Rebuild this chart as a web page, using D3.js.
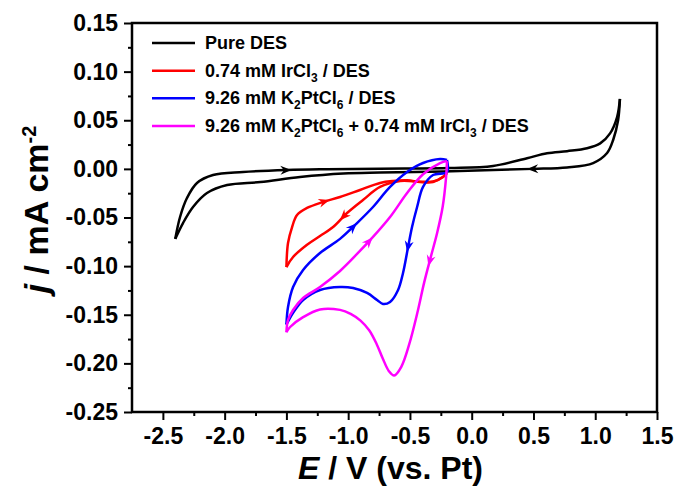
<!DOCTYPE html>
<html lang="en">
<meta charset="utf-8">
<title>CV curves</title>
<script src="https://d3js.org/d3.v7.min.js"></script>
<body>
<div id="chart"></div>
</body>

<style>
body {
  margin: 0;
  background-color: white;
}
.chartText {
  font-family: "Liberation Sans", Arial, Helvetica, sans-serif;
  font-weight: bold;
  fill: black;
}
</style>

<script>
    // ---------------------------//
    //       DATA                 //
    // ---------------------------//

    // axis ranges and ticks
    const eRange = [-2.75, 1.5];
    const jRange = [-0.25, 0.15];
    const xTicks = [-2.5, -2.0, -1.5, -1.0, -0.5, 0.0, 0.5, 1.0, 1.5];
    const xMinorTicks = [-2.25, -1.75, -1.25, -0.75, -0.25, 0.25, 0.75, 1.25];
    const yTicks = [0.15, 0.10, 0.05, 0.00, -0.05, -0.10, -0.15, -0.20, -0.25];
    const yMinorTicks = [0.125, 0.075, 0.025, -0.025, -0.075, -0.125, -0.175, -0.225];

    // Pure DES, [E (V), j (mA cm-2)]
    const pureAnodic = [[-2.40,-0.072],[-2.361,-0.0495],[-2.305,-0.030],[-2.224,-0.0145],[-2.094,-0.0063],
      [-1.851,-0.0032],[-1.495,-0.0012],[-1.171,-0.0004],[-0.742,0.0002],[-0.175,0.0008],[0.173,0.003],
      [0.448,0.011],[0.610,0.0160],[0.772,0.0182],[0.934,0.0212],[1.04,0.0262],[1.12,0.0365],
      [1.177,0.0533],[1.20,0.0719]];
    const pureCathodic = [[1.20,0.0719],[1.185,0.050],[1.145,0.0297],[1.096,0.0163],[0.983,0.006],
      [0.772,0.0015],[0.497,0.0],[0.173,-0.0012],[-0.232,-0.0028],[-0.742,-0.0038],[-1.04,-0.0048],
      [-1.39,-0.0084],[-1.71,-0.0135],[-1.98,-0.0166],[-2.143,-0.0248],[-2.256,-0.0392],
      [-2.337,-0.0557],[-2.40,-0.072]];

    // 0.74 mM IrCl3 / DES
    const irCathodic = [[-0.2,-0.0042],[-0.233,-0.0084],[-0.313,-0.0130],[-0.418,-0.0132],[-0.58,-0.0125],
      [-0.742,-0.0186],[-0.88,-0.032],[-1.009,-0.0454],[-1.122,-0.0598],[-1.228,-0.069],
      [-1.333,-0.078],[-1.446,-0.0906],[-1.5,-0.101]];
    const irAnodic = [[-1.5,-0.101],[-1.487,-0.0762],[-1.454,-0.0598],[-1.414,-0.0474],[-1.333,-0.0402],
      [-1.203,-0.034],[-1.066,-0.0289],[-0.904,-0.0217],[-0.742,-0.0145],[-0.637,-0.0125],
      [-0.523,-0.0118],[-0.418,-0.0135],[-0.313,-0.0135],[-0.233,-0.0084],[-0.2,-0.0042]];

    // 9.26 mM K2PtCl6 / DES
    const ptCathodic = [[-0.2,0.0091],[-0.2,-0.0032],[-0.313,-0.0063],[-0.394,-0.0186],[-0.442,-0.0392],
      [-0.483,-0.0598],[-0.515,-0.0803],[-0.556,-0.107],[-0.596,-0.1245],[-0.661,-0.1368],
      [-0.718,-0.1389],[-0.766,-0.1348],[-0.847,-0.1276],[-0.96,-0.1225],[-1.066,-0.1214],
      [-1.228,-0.1245],[-1.365,-0.1348],[-1.446,-0.1481],[-1.487,-0.1570],[-1.5,-0.160]];
    const ptAnodic = [[-1.5,-0.160],[-1.487,-0.142],[-1.446,-0.1215],[-1.365,-0.104],[-1.228,-0.0865],
      [-1.066,-0.072],[-0.928,-0.0557],[-0.799,-0.0392],[-0.661,-0.0186],[-0.523,-0.0032],
      [-0.394,0.006],[-0.256,0.0101],[-0.2,0.0091]];

    // 9.26 mM K2PtCl6 + 0.74 mM IrCl3 / DES
    const mixCathodic = [[-0.2,0.008],[-0.207,-0.008],[-0.235,-0.039],[-0.28,-0.066],[-0.33,-0.090],
      [-0.385,-0.117],[-0.44,-0.148],[-0.505,-0.180],[-0.57,-0.2035],[-0.628,-0.2125],
      [-0.67,-0.208],[-0.72,-0.195],[-0.77,-0.180],[-0.83,-0.166],[-0.90,-0.156],
      [-0.98,-0.149],[-1.066,-0.145],[-1.228,-0.1445],[-1.365,-0.1525],[-1.47,-0.1626],[-1.5,-0.168]];
    const mixAnodic = [[-1.5,-0.168],[-1.487,-0.1554],[-1.446,-0.1451],[-1.365,-0.1328],[-1.228,-0.1215],
      [-1.066,-0.105],[-0.928,-0.0875],[-0.799,-0.070],[-0.661,-0.0495],[-0.523,-0.0248],
      [-0.394,-0.0055],[-0.256,0.006],[-0.2,0.008]];

    const seriesColors = ["#000000", "#ff0000", "#0000ff", "#ff00ff"];
    const legendLabels = [
      [{t: "Pure DES"}],
      [{t: "0.74 mM IrCl"}, {t: "3", sub: true}, {t: " / DES"}],
      [{t: "9.26 mM K"}, {t: "2", sub: true}, {t: "PtCl"}, {t: "6", sub: true}, {t: " / DES"}],
      [{t: "9.26 mM K"}, {t: "2", sub: true}, {t: "PtCl"}, {t: "6", sub: true},
       {t: " + 0.74 mM IrCl"}, {t: "3", sub: true}, {t: " / DES"}]
    ];

    // each branch drawn separately so the turning points stay sharp
    const branches = [
      {series: 0, pts: pureAnodic}, {series: 0, pts: pureCathodic},
      {series: 1, pts: irCathodic}, {series: 1, pts: irAnodic},
      {series: 2, pts: ptCathodic}, {series: 2, pts: ptAnodic},
      {series: 3, pts: mixCathodic}, {series: 3, pts: mixAnodic}
    ];

    // scan direction arrows: branch index and potential where they sit
    const arrowMarks = [
      {branch: 0, e: -1.5}, {branch: 1, e: 0.49},
      {branch: 2, e: -1.04}, {branch: 3, e: -1.19},
      {branch: 4, e: -0.515}, {branch: 5, e: -0.96},
      {branch: 6, e: -0.34}, {branch: 7, e: -0.83}
    ];

    // ---------------------------//
    //       SVG AND SCALES       //
    // ---------------------------//

    let margin = {top: 23, right: 21, bottom: 76, left: 132},
        width = 678 - margin.left - margin.right,
        height = 488 - margin.top - margin.bottom;

    let svg = d3.select("#chart")
      .append("svg")
        .attr("width", 678)
        .attr("height", 488)
      .append("g")
        .attr("transform", "translate(" + margin.left + "," + margin.top + ")");

    let x = d3.scaleLinear().domain(eRange).range([0, width]);
    let y = d3.scaleLinear().domain(jRange).range([height, 0]);

    // minor ticks
    svg.append("g")
      .attr("transform", "translate(0," + height + ")")
      .call(d3.axisBottom(x).tickValues(xMinorTicks).tickSize(4).tickFormat(""))
      .call(g => g.select(".domain").remove())
      .call(g => g.selectAll("line").attr("stroke-width", 2));
    svg.append("g")
      .call(d3.axisLeft(y).tickValues(yMinorTicks).tickSize(4).tickFormat(""))
      .call(g => g.select(".domain").remove())
      .call(g => g.selectAll("line").attr("stroke-width", 2));

    // major ticks with labels
    svg.append("g")
      .attr("transform", "translate(0," + height + ")")
      .call(d3.axisBottom(x).tickValues(xTicks).tickSize(8).tickPadding(8)
        .tickFormat(d => d.toFixed(1)))
      .call(g => g.select(".domain").remove())
      .call(g => g.selectAll("line").attr("stroke-width", 2))
      .call(g => g.selectAll("text").attr("class", "chartText").style("font-size", "23px"));
    svg.append("g")
      .call(d3.axisLeft(y).tickValues(yTicks).tickSize(8).tickPadding(6)
        .tickFormat(d => d.toFixed(2)))
      .call(g => g.select(".domain").remove())
      .call(g => g.selectAll("line").attr("stroke-width", 2))
      .call(g => g.selectAll("text").attr("class", "chartText").style("font-size", "23px"));

    // frame
    svg.append("rect")
      .attr("width", width)
      .attr("height", height)
      .attr("fill", "none")
      .attr("stroke", "black")
      .attr("stroke-width", 2.5);

    // axis titles
    let xTitle = svg.append("text")
      .attr("class", "chartText")
      .attr("text-anchor", "middle")
      .attr("x", width / 2 - 4)
      .attr("y", height + 67)
      .style("font-size", "32px");
    xTitle.append("tspan").style("font-style", "italic").text("E");
    xTitle.append("tspan").text(" / V (vs. Pt)");

    let yTitle = svg.append("text")
      .attr("class", "chartText")
      .attr("text-anchor", "middle")
      .attr("transform", "rotate(-90)")
      .attr("x", -(height / 2 - 8))
      .attr("y", -84)
      .style("font-size", "34px");
    yTitle.append("tspan").style("font-style", "italic").text("j");
    yTitle.append("tspan").text(" / mA cm");
    yTitle.append("tspan").attr("dy", "-0.6em").style("font-size", "20px").text("-2");

    // ---------------------------//
    //       CURVES               //
    // ---------------------------//

    let line = d3.line()
      .x(d => x(d[0]))
      .y(d => y(d[1]))
      .curve(d3.curveCatmullRom.alpha(0.5));

    let paths = svg.append("g")
      .selectAll("path")
      .data(branches)
      .enter()
      .append("path")
        .attr("d", d => line(d.pts))
        .attr("fill", "none")
        .attr("stroke", d => seriesColors[d.series])
        .attr("stroke-width", 2.5)
        .attr("stroke-linejoin", "round");

    // arrow heads sitting on the drawn curves, pointing along the scan
    let pathNodes = paths.nodes();
    arrowMarks.forEach(function(a) {
      let node = pathNodes[a.branch];
      let total = node.getTotalLength();
      let target = x(a.e), best = 0, bestDist = Infinity;
      for (let l = 0; l <= total; l += 0.5) {
        let p = node.getPointAtLength(l);
        let dist = Math.abs(p.x - target);
        if (dist < bestDist) { bestDist = dist; best = l; }
      }
      let p = node.getPointAtLength(best);
      let p0 = node.getPointAtLength(Math.max(0, best - 2));
      let p1 = node.getPointAtLength(Math.min(total, best + 2));
      let angle = Math.atan2(p1.y - p0.y, p1.x - p0.x) * 180 / Math.PI;
      svg.append("path")
        .attr("d", "M5,0 L-6,-4.5 L-2.5,0 L-6,4.5 Z")
        .attr("fill", seriesColors[branches[a.branch].series])
        .attr("transform", "translate(" + p.x + "," + p.y + ") rotate(" + angle + ")");
    });

    // ---------------------------//
    //       LEGEND               //
    // ---------------------------//

    let legendY = d3.scalePoint().domain(d3.range(legendLabels.length)).range([20, 103]);

    let legend = svg.append("g")
      .selectAll("g")
      .data(legendLabels)
      .enter()
      .append("g")
        .attr("transform", (d, i) => "translate(20," + legendY(i) + ")");

    legend.append("line")
      .attr("x1", 0).attr("x2", 43)
      .attr("stroke", (d, i) => seriesColors[i])
      .attr("stroke-width", 2.5);

    legend.append("text")
      .attr("class", "chartText")
      .attr("x", 53)
      .attr("y", 6)
      .style("font-size", "18px")
      .each(function(parts) {
        let t = d3.select(this);
        let shifted = false;
        parts.forEach(function(part) {
          let span = t.append("tspan").text(part.t);
          if (part.sub) {
            span.attr("dy", 5).style("font-size", "12px");
            shifted = true;
          } else if (shifted) {
            span.attr("dy", -5);
            shifted = false;
          }
        });
      });
</script>
</html>
